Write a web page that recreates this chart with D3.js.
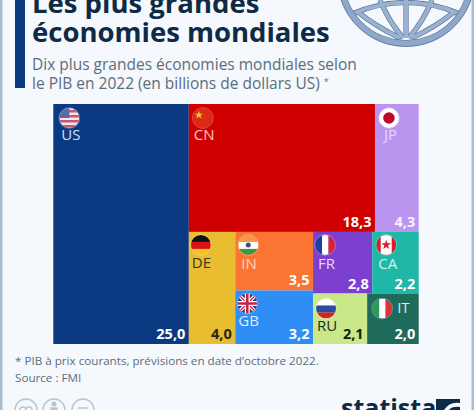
<!DOCTYPE html>
<html>
<head>
<meta charset="utf-8">
<script src="https://cdn.jsdelivr.net/npm/d3@7"></script>
<style>
  html, body { margin: 0; padding: 0; background: #f5f8fc; overflow: hidden; }
  text { font-family: "Open Sans", sans-serif; }
</style>
</head>
<body>
<script>
const width = 474;
const height = 410;

const titleLines = ["Les plus grandes", "économies mondiales"];
const subtitleLines = ["Dix plus grandes économies mondiales selon", "le PIB en 2022 (en billions de dollars US) "];
const footLines = ["* PIB à prix courants, prévisions en date d’octobre 2022.", "Source : FMI"];

const countries = ["US", "CN", "JP", "DE", "IN", "GB", "FR", "CA", "RU", "IT"];
const gdp = [25.0, 18.3, 4.3, 4.0, 3.5, 3.2, 2.8, 2.2, 2.1, 2.0];
const colors = ["#0b3a82", "#d10000", "#b995f0", "#e8bd2f", "#fb7431", "#2f8ef5", "#7d3fd0", "#1fb8a8", "#c8e88a", "#1e6b5c"];
const labelColors = ["#cfe0f5", "#f8c8c4", "#e6d8fa", "#3a3420", "#fdd9c6", "#d8ebff", "#e6d8f8", "#d4f2ee", "#1e2a18", "#d8ebe6"];
const valueColors = ["#ffffff", "#ffffff", "#f6f0ff", "#2a2410", "#ffffff", "#ffffff", "#ffffff", "#ffffff", "#12200f", "#ffffff"];

// flag centre and label start, relative to the cell corner
const flagAt = { US: [16, 14], CN: [14, 14], JP: [14, 14], DE: [12, 13], IN: [13, 13], GB: [12, 13], FR: [12, 13], CA: [14, 13], RU: [13, 15], IT: [15, 15] };
const labelAt = { US: [8, 36], CN: [5, 36], JP: [9, 36], DE: [3, 36], IN: [6, 37], GB: [3, 36], FR: [5, 37], CA: [6, 37], RU: [4, 37], IT: [30, 19] };

const margin = { left: 53.3, top: 104, right: 55.3, bottom: 66 };

const leaf = code => {
  const i = countries.indexOf(code);
  return { code, value: gdp[i], color: colors[i], ink: labelColors[i], valueInk: valueColors[i] };
};

// nesting follows the layout of the picture, the areas come from the values
const tree = {
  children: [
    leaf("US"),
    { children: [
      { children: [leaf("CN"), leaf("JP")] },
      { children: [
        leaf("DE"),
        { children: [leaf("IN"), leaf("GB")] },
        { children: [
          { children: [leaf("FR"), leaf("CA")] },
          { children: [leaf("RU"), leaf("IT")] }
        ] }
      ] }
    ] }
  ]
};

const root = d3.hierarchy(tree).sum(d => d.value || 0);
d3.treemap()
  .tile(d3.treemapSliceDice)
  .size([width - margin.left - margin.right, height - margin.top - margin.bottom])(root);

const svg = d3.select("body").append("svg")
  .attr("width", width)
  .attr("height", height)
  .style("display", "block");

const defs = svg.append("defs");
const flagR = 10;
defs.append("clipPath").attr("id", "flagClip")
  .append("circle").attr("r", flagR);

// frame and title block
svg.append("rect").attr("width", width).attr("height", height).attr("fill", "#f5f8fc");
svg.append("rect").attr("width", 2.5).attr("height", height).attr("fill", "#a9bdd2");
svg.append("rect").attr("x", width - 2.5).attr("width", 2.5).attr("height", height).attr("fill", "#a9bdd2");
svg.append("rect").attr("x", 15).attr("width", 10).attr("height", 88).attr("fill", "#0b3a7e");

// globe, seen from below and cut by the top of the page
const globeLines = [
  "M352,14 Q406,-9 460,14",
  "M358,12 Q375,26 400,38",
  "M454,12 Q437,26 412,38",
  "M380,0 Q388,20 403,38",
  "M432,0 Q424,20 409,38",
  "M406,0 V38"
];
const globe = svg.append("g").attr("fill", "none");
globe.selectAll("path.dark").data(globeLines).join("path")
  .attr("class", "dark").attr("d", d => d).attr("stroke", "#566f90").attr("stroke-width", 5.2);
globe.selectAll("path.light").data(globeLines).join("path")
  .attr("class", "light").attr("d", d => d).attr("stroke", "#9ab2d2").attr("stroke-width", 4);
globe.append("circle").attr("cx", 406).attr("cy", -22).attr("r", 65.5).attr("stroke", "#8ea8cb").attr("stroke-width", 6);
globe.append("circle").attr("cx", 406).attr("cy", -22).attr("r", 68.5).attr("stroke", "#55708f").attr("stroke-width", 0.8);
globe.append("circle").attr("cx", 406).attr("cy", -22).attr("r", 62.5).attr("stroke", "#4a6384").attr("stroke-width", 0.7);

svg.selectAll("text.title").data(titleLines).join("text")
  .attr("class", "title")
  .attr("x", 32).attr("y", (d, i) => 13 + i * 29)
  .attr("font-size", 27.5).attr("font-weight", 700).attr("fill", "#0f2a45")
  .text(d => d);

const subs = svg.selectAll("text.sub").data(subtitleLines).join("text")
  .attr("class", "sub")
  .attr("x", 32).attr("y", (d, i) => 70 + i * 19)
  .attr("font-size", 15.5).attr("fill", "#5c6d7c")
  .text(d => d);
subs.filter((d, i) => i === 1).append("tspan")
  .attr("dy", -4).attr("font-size", 9).text("*");

svg.selectAll("text.foot").data(footLines).join("text")
  .attr("class", "foot")
  .attr("x", 15).attr("y", (d, i) => 365 + i * 16.5)
  .attr("font-size", 11.65).attr("fill", "#5c6d7c")
  .text(d => d);

// treemap cells
const cells = svg.append("g")
  .attr("transform", `translate(${margin.left},${margin.top})`)
  .selectAll("g").data(root.leaves()).join("g")
  .attr("transform", d => `translate(${d.x0},${d.y0})`);

cells.append("rect")
  .attr("width", d => d.x1 - d.x0)
  .attr("height", d => d.y1 - d.y0)
  .attr("fill", d => d.data.color);

cells.append("text")
  .attr("x", d => labelAt[d.data.code][0])
  .attr("y", d => labelAt[d.data.code][1])
  .attr("font-size", 15)
  .attr("fill", d => d.data.ink)
  .text(d => d.data.code);

cells.append("text")
  .attr("x", d => d.x1 - d.x0 - 3.5)
  .attr("y", d => d.y1 - d.y0 - 5)
  .attr("text-anchor", "end")
  .attr("font-size", 14.5)
  .attr("font-weight", 700)
  .attr("fill", d => d.data.valueInk)
  .text(d => d.data.value.toFixed(1).replace(".", ","));

// flags, drawn in a 20x20 box round the centre
const band = (g, x, y, w, h, fill) => g.append("rect").attr("x", x).attr("y", y).attr("width", w).attr("height", h).attr("fill", fill);

const flagDrawers = {
  US(g) {
    band(g, -10, -10, 20, 20, "#f0e6ee");
    d3.range(0, 4).forEach(i => band(g, -10, -8 + i * 5, 20, 2.5, "#c8566e"));
    band(g, -10, -10, 10, 10, "#5a6aa8");
  },
  CN(g) {
    band(g, -10, -10, 20, 20, "#dc2a16");
    g.append("path").attr("d", d3.symbol(d3.symbolStar, 22)()).attr("transform", "translate(-4,-3)").attr("fill", "#f4c430");
  },
  JP(g) {
    band(g, -10, -10, 20, 20, "#fff");
    g.append("circle").attr("r", 5.8).attr("fill", "#bc0a2a");
  },
  DE(g) {
    band(g, -10, -10, 20, 7, "#111");
    band(g, -10, -3, 20, 7, "#d8121a");
    band(g, -10, 4, 20, 6, "#f5c518");
  },
  IN(g) {
    band(g, -10, -10, 20, 7, "#f59a3c");
    band(g, -10, -3, 20, 7, "#fff");
    band(g, -10, 4, 20, 6, "#3d9a3a");
    g.append("circle").attr("r", 2.5).attr("fill", "#33518f");
  },
  GB(g) {
    band(g, -10, -10, 20, 20, "#2c3f85");
    g.append("path").attr("d", "M-10,-10L10,10M10,-10L-10,10").attr("stroke", "#fff").attr("stroke-width", 3.5);
    g.append("path").attr("d", "M-10,-10L10,10M10,-10L-10,10").attr("stroke", "#cc2040").attr("stroke-width", 1.2);
    g.append("path").attr("d", "M0,-10V10M-10,0H10").attr("stroke", "#fff").attr("stroke-width", 5);
    g.append("path").attr("d", "M0,-10V10M-10,0H10").attr("stroke", "#cc2040").attr("stroke-width", 2.6);
  },
  FR(g) {
    band(g, -10, -10, 7, 20, "#1d3f9e");
    band(g, -3, -10, 6.5, 20, "#fff");
    band(g, 3.5, -10, 6.5, 20, "#df2035");
  },
  CA(g) {
    band(g, -10, -10, 20, 20, "#d8202c");
    band(g, -5.5, -10, 11, 20, "#fff");
    g.append("path").attr("d", d3.symbol(d3.symbolStar, 30)()).attr("fill", "#d8202c");
  },
  RU(g) {
    band(g, -10, -10, 20, 7, "#fff");
    band(g, -10, -3, 20, 7, "#2b4aa6");
    band(g, -10, 4, 20, 6, "#d8202c");
  },
  IT(g) {
    band(g, -10, -10, 7, 20, "#2f9a55");
    band(g, -3, -10, 6.5, 20, "#fff");
    band(g, 3.5, -10, 6.5, 20, "#e0323c");
  }
};

cells.each(function(d) {
  const [fx, fy] = flagAt[d.data.code];
  const holder = d3.select(this).append("g").attr("transform", `translate(${fx},${fy})`);
  flagDrawers[d.data.code](holder.append("g").attr("clip-path", "url(#flagClip)"));
  holder.append("circle").attr("r", flagR + 0.4)
    .attr("fill", "none").attr("stroke", "#fff").attr("stroke-opacity", 0.35).attr("stroke-width", 0.8);
});

// share icons at the bottom, cut by the page edge
const icons = svg.append("g").attr("fill", "none").attr("stroke", "#b9c4cf").attr("stroke-width", 1.4);
[26, 54, 83].forEach(x => icons.append("circle").attr("cx", x).attr("cy", 410).attr("r", 11));
icons.append("circle").attr("cx", 54).attr("cy", 404).attr("r", 1.8).attr("fill", "#b9c4cf");
icons.append("path").attr("d", "M51,410 V408 H57 V410").attr("fill", "#b9c4cf");
icons.append("path").attr("d", "M78,408 H88");
icons.append("path").attr("d", "M20,410 a3,3 0 0 1 6,0 a3,3 0 0 1 6,0");

// logo
svg.append("text").attr("x", 341).attr("y", 417).attr("font-size", 25).attr("font-weight", 700)
  .attr("fill", "#0f2a45").text("statista");
svg.append("rect").attr("x", 436).attr("y", 399).attr("width", 24).attr("height", 11).attr("fill", "#0f2a45");
svg.append("path").attr("d", "M444,410 Q450,401 460,403 V407 Q452,406 449,410 Z").attr("fill", "#f5f8fc");
</script>
</body>
</html>
